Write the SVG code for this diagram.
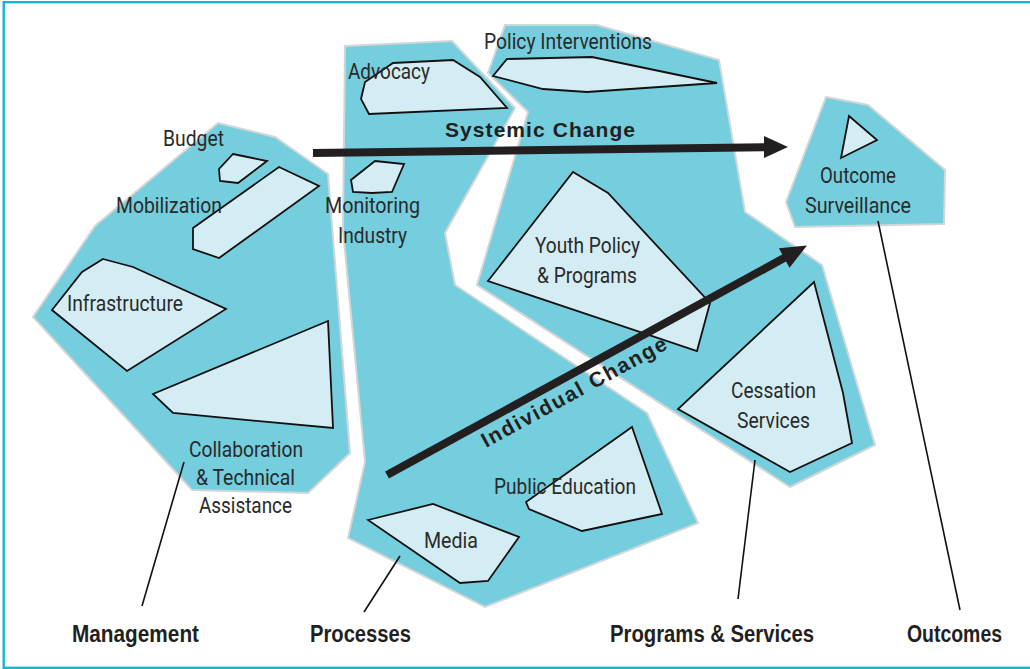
<svg xmlns="http://www.w3.org/2000/svg" width="1030" height="669" viewBox="0 0 1030 669">
<style>
.region{fill:#74CEDE;stroke:#D2D6D7;stroke-width:2;stroke-linejoin:miter}
.item{fill:#D4EDF4;stroke:#111;stroke-width:1.8;stroke-linejoin:miter}
.lbl{font-family:Roboto,"Liberation Sans",sans-serif;font-weight:normal;font-size:22.5px;fill:#2a2a2a}
.cat{font-family:"Liberation Sans",Arial,sans-serif;font-weight:bold;font-size:23px;fill:#231F20}
.chg{font-family:"Liberation Sans",Arial,sans-serif;font-weight:bold;font-size:21px;fill:#231F20}
.lead{stroke:#111;stroke-width:1.6;fill:none}
.shaft{stroke:#231F20;stroke-width:8;fill:none}
.head{fill:#231F20}
</style>
<rect x="0" y="0" width="1030" height="669" fill="#fff"/>
<rect x="3.7" y="2.2" width="1040" height="665.6" fill="none" stroke="#19B5CC" stroke-width="2.4"/>

<g id="management">
<polygon class="region" points="218,123 275,137 328,174 350,453 308,493 192,490 33,317 95,226"/>
</g>
<g id="processes">
<polygon class="region" points="345,46 452,41 515,108 445,233 455,285 647,413 698,523 485,607 348,538 365,462 343,230"/>
</g>
<g id="programs-services">
<polygon class="region" points="505,25 597,25 719,60 745,212 822,265 875,445 790,487 477,285 528,112 488,73"/>
</g>
<g id="outcomes">
<polygon class="region" points="826,97 868,105 945,170 944,224 795,227 786,202"/>
</g>

<g id="budget"><polygon class="item" points="233,154 267,161 238,183 220,181 219,169"/></g>
<g id="mobilization"><polygon class="item" points="279,167 319,186 219,258 193,249 193,228"/></g>
<g id="infrastructure"><polygon class="item" points="103,259 133,267 226,309 127,371 52,310 82,272"/></g>
<g id="collaboration"><polygon class="item" points="328,321 333,428 173,413 153,394"/></g>
<g id="advocacy"><polygon class="item" points="393,63 453,60 480,77 507,108 369,114 361,99 365,82"/></g>
<g id="monitoring-industry"><polygon class="item" points="375,161 404,164 392,192 372,193 353,192 351,180"/></g>
<g id="policy-interventions"><polygon class="item" points="507,59 592,57 717,83 587,92 543,89 493,76"/></g>
<g id="youth-policy"><polygon class="item" points="573,172 608,193 710,303 697,351 488,281"/></g>
<g id="cessation-services"><polygon class="item" points="814,282 843,393 852,443 790,472 678,409"/></g>
<g id="public-education"><polygon class="item" points="632,427 662,514 582,531 529,509 526,502"/></g>
<g id="media"><polygon class="item" points="368,520 433,504 519,537 488,581 460,583"/></g>
<g id="outcome-surveillance"><polygon class="item" points="849,116 877,140 841,158"/></g>

<g id="connectors">
<line class="shaft" x1="313" y1="153" x2="766" y2="147.3"/>
<polygon class="head" points="764,136 788,147 764,158"/>
<line class="shaft" x1="387" y1="475" x2="785" y2="257.5"/>
<polygon class="head" points="807,245.5 778.9,248.3 789.5,267.7"/>
<line class="lead" x1="184" y1="462" x2="142" y2="606"/>
<line class="lead" x1="400" y1="556" x2="364" y2="612"/>
<line class="lead" x1="755" y1="460" x2="738" y2="599"/>
<line class="lead" x1="878" y1="221" x2="960" y2="610"/>
</g>

<g id="labels">
<text class="lbl" x="163" y="146" textLength="61" lengthAdjust="spacingAndGlyphs">Budget</text>
<text class="lbl" x="116" y="213" textLength="106" lengthAdjust="spacingAndGlyphs">Mobilization</text>
<text class="lbl" x="67" y="311" textLength="116" lengthAdjust="spacingAndGlyphs">Infrastructure</text>
<text class="lbl" x="189" y="457" textLength="114" lengthAdjust="spacingAndGlyphs">Collaboration</text>
<text class="lbl" x="196" y="485" textLength="99" lengthAdjust="spacingAndGlyphs">&amp; Technical</text>
<text class="lbl" x="199" y="513" textLength="93" lengthAdjust="spacingAndGlyphs">Assistance</text>
<text class="lbl" x="348" y="79" textLength="82" lengthAdjust="spacingAndGlyphs">Advocacy</text>
<text class="lbl" x="325" y="213" textLength="95" lengthAdjust="spacingAndGlyphs">Monitoring</text>
<text class="lbl" x="338" y="243" textLength="69" lengthAdjust="spacingAndGlyphs">Industry</text>
<text class="lbl" x="484" y="49" textLength="168" lengthAdjust="spacingAndGlyphs">Policy Interventions</text>
<text class="lbl" x="535" y="253" textLength="105" lengthAdjust="spacingAndGlyphs">Youth Policy</text>
<text class="lbl" x="537" y="283" textLength="100" lengthAdjust="spacingAndGlyphs">&amp; Programs</text>
<text class="lbl" x="820" y="183" textLength="76" lengthAdjust="spacingAndGlyphs">Outcome</text>
<text class="lbl" x="805" y="213" textLength="106" lengthAdjust="spacingAndGlyphs">Surveillance</text>
<text class="lbl" x="731" y="398" textLength="85" lengthAdjust="spacingAndGlyphs">Cessation</text>
<text class="lbl" x="737" y="428" textLength="73" lengthAdjust="spacingAndGlyphs">Services</text>
<text class="lbl" x="494" y="494" textLength="142" lengthAdjust="spacingAndGlyphs">Public Education</text>
<text class="lbl" x="424" y="548" textLength="54" lengthAdjust="spacingAndGlyphs">Media</text>
<text class="chg" x="445" y="137" textLength="190">Systemic Change</text>
<text class="chg" x="486" y="448" textLength="208" transform="rotate(-28.6 486 448)">Individual Change</text>
<text class="cat" x="72" y="642" textLength="127" lengthAdjust="spacingAndGlyphs">Management</text>
<text class="cat" x="310" y="642" textLength="101" lengthAdjust="spacingAndGlyphs">Processes</text>
<text class="cat" x="610" y="642" textLength="204" lengthAdjust="spacingAndGlyphs">Programs &amp; Services</text>
<text class="cat" x="907" y="642" textLength="95" lengthAdjust="spacingAndGlyphs">Outcomes</text>
</g>
</svg>
